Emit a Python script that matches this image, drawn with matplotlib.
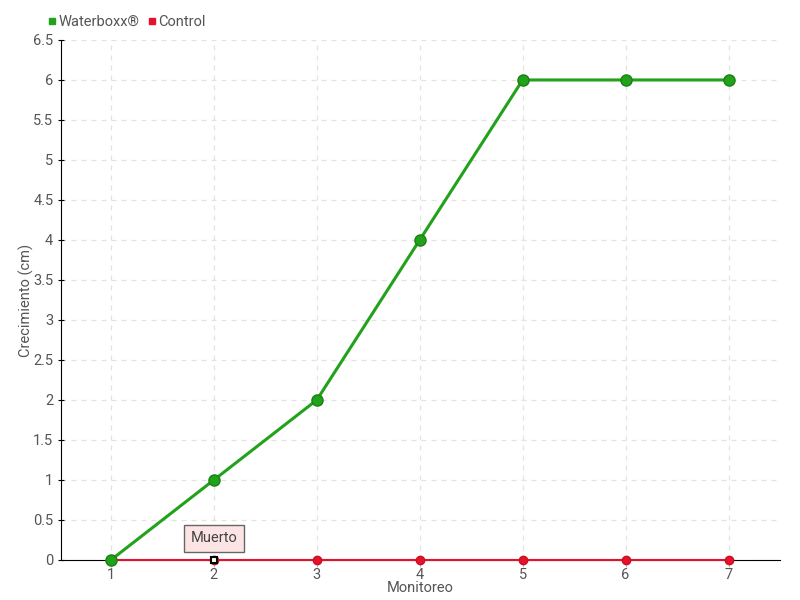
import matplotlib
matplotlib.use('Agg')
import matplotlib.pyplot as plt
from matplotlib.lines import Line2D

plt.rcParams['font.family'] = ['Roboto', 'DejaVu Sans']

monitoreo = [1, 2, 3, 4, 5, 6, 7]
waterboxx = [0, 1, 2, 4, 6, 6, 6]
control = [0, 0, 0, 0, 0, 0, 0]
yticks = [0, 0.5, 1, 1.5, 2, 2.5, 3, 3.5, 4, 4.5, 5, 5.5, 6, 6.5]
ytick_labels = ['0', '0.5', '1', '1.5', '2', '2.5', '3', '3.5', '4', '4.5', '5', '5.5', '6', '6.5']

green = '#22a11a'
red = '#e8112d'
txt = '#555555'

fig = plt.figure(figsize=(8, 6), dpi=100)
ax = fig.add_axes([0.07625, 0.0667, 0.89875, 0.8667])

ax.plot(monitoreo, control, color=red, lw=1.5, marker='o', ms=6,
        markerfacecolor=red, markeredgecolor='#c9101f', zorder=3, clip_on=False)
ax.plot(monitoreo, waterboxx, color=green, lw=2.2, marker='o', ms=8,
        markerfacecolor=green, markeredgecolor='#1a8014', zorder=4, clip_on=False)

# highlighted point with tooltip
ax.plot([monitoreo[1]], [control[1]], marker='s', ms=5, color='black',
        markerfacecolor='white', markeredgewidth=1.5, zorder=6, clip_on=False)
ax.annotate('Muerto', xy=(monitoreo[1], control[1]), xytext=(0, 15.5),
            textcoords='offset points', ha='center', va='center', fontsize=10.5,
            color='#444444',
            bbox=dict(boxstyle='square,pad=0.45', fc='#fde4e4', ec='#666666', lw=1),
            zorder=7)

ax.set_xlim(0.515, 7.5)
ax.set_ylim(0, 6.5)
ax.set_xticks(monitoreo)
ax.set_yticks(yticks)
ax.set_yticklabels(ytick_labels)

ax.grid(True, color='#e3e3e3', ls=(0, (4, 4)), lw=0.9)
ax.set_axisbelow(True)

for s in ['top', 'right']:
    ax.spines[s].set_visible(False)
ax.spines['left'].set_color('black')
ax.spines['bottom'].set_color('black')

ax.tick_params(axis='y', colors='black', labelcolor=txt, labelsize=10.5, length=4, direction='inout')
ax.tick_params(axis='x', colors='#bbbbbb', labelcolor=txt, labelsize=10.5, length=5, pad=1)

ax.set_xlabel('Monitoreo', color=txt, fontsize=10.5, labelpad=-1)
ax.set_ylabel('Crecimiento (cm)', color=txt, fontsize=10.5)
ax.yaxis.set_label_coords(-0.037, 0.5)

# legend
handles = [Line2D([], [], ls='none', marker='s', ms=5, color=green),
           Line2D([], [], ls='none', marker='s', ms=5, color=red)]
leg = fig.legend(handles, ['Waterboxx®', 'Control'], loc='center left',
                 bbox_to_anchor=(0.06, 0.963), ncol=2, frameon=False,
                 handlelength=0.5, handletextpad=0.2, columnspacing=0.6,
                 borderaxespad=0, borderpad=0, fontsize=10.5)
for t in leg.get_texts():
    t.set_color(txt)

fig.savefig('out.png', dpi=100)
